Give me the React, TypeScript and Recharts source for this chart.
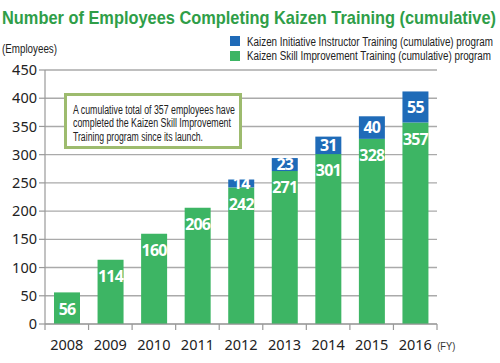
import { Bar, BarChart, CartesianGrid, LabelList, XAxis, YAxis } from 'recharts';

const YEARS = ['2008', '2009', '2010', '2011', '2012', '2013', '2014', '2015', '2016'];
const SKILL = [56, 114, 160, 206, 242, 271, 301, 328, 357];
const INSTRUCTOR = [null, null, null, null, 14, 23, 31, 40, 55];
const Y_TICKS = [0, 50, 100, 150, 200, 250, 300, 350, 400, 450];

const TITLE = 'Number of Employees Completing Kaizen Training (cumulative)';
const UNIT = '(Employees)';
const LEGEND = [
  'Kaizen Initiative Instructor Training (cumulative) program',
  'Kaizen Skill Improvement Training (cumulative) program',
];
const NOTE = [
  'A cumulative total of 357 employees have',
  'completed the Kaizen Skill Improvement',
  'Training program since its launch.',
];

const GREEN = '#3db564';
const BLUE = '#1f6bb8';
const SANS = '"Liberation Sans", Arial, sans-serif';
const LABEL_FONT = '"Noto Sans", "Open Sans", sans-serif';

const W = 500;
const H = 363;
const MARGIN = { top: 70, right: 63, left: 0, bottom: 0 };
const Y_W = 45;
const BAND = (W - MARGIN.left - MARGIN.right - Y_W) / YEARS.length;

const data = YEARS.map((year, i) => ({
  year,
  skill: SKILL[i],
  instructor: INSTRUCTOR[i],
}));

function XTick(props: any) {
  const { x, y, payload, index } = props;
  const last = index === YEARS.length - 1;
  return (
    <g>
      <line x1={x - BAND / 2} x2={x - BAND / 2} y1={y - 8} y2={y - 2} stroke="#999" strokeWidth={1.2} />
      {last && <line x1={x + BAND / 2} x2={x + BAND / 2} y1={y - 8} y2={y - 2} stroke="#999" strokeWidth={1.2} />}
      <text x={x} y={y + 18} textAnchor="middle" fontSize={14.5} fill="#222" fontFamily={LABEL_FONT}>
        {payload.value}
      </text>
      {last && (
        <text x={x + 22} y={y + 18} fontSize={11} fill="#333" fontFamily={SANS} textLength={18} lengthAdjust="spacingAndGlyphs">
          (FY)
        </text>
      )}
    </g>
  );
}

export default function App() {
  return (
    <div style={{ position: 'absolute', left: 0, top: 0, width: W, height: H, background: '#fff' }}>
      <BarChart width={W} height={H} data={data} margin={MARGIN} barSize={26}>
        <CartesianGrid horizontal vertical={false} stroke="#aaa" strokeWidth={1.4} />
        <XAxis
          dataKey="year"
          height={H - 324}
          axisLine={{ stroke: '#999', strokeWidth: 1.2 }}
          tickLine={false}
          tick={<XTick />}
          interval={0}
        />
        <YAxis
          width={Y_W}
          domain={[0, 450]}
          ticks={Y_TICKS}
          interval={0}
          axisLine={{ stroke: '#999', strokeWidth: 1.2 }}
          tickLine={{ stroke: '#999', strokeWidth: 1.2 }}
          tickSize={6}
          tick={{ fontSize: 14.5, fill: '#222', fontFamily: LABEL_FONT }}
        />
        <Bar dataKey="skill" stackId="a" fill={GREEN} isAnimationActive={false}>
          <LabelList
            dataKey="skill"
            position="insideTop"
            offset={11}
            fill="#fff"
            fontSize={16}
            fontWeight={700}
            fontFamily={LABEL_FONT}
            letterSpacing={-0.8}
          />
        </Bar>
        <Bar dataKey="instructor" stackId="a" fill={BLUE} isAnimationActive={false}>
          <LabelList
            dataKey="instructor"
            position="center"
            fill="#fff"
            fontSize={16}
            fontWeight={700}
            fontFamily={LABEL_FONT}
            letterSpacing={-0.8}
          />
        </Bar>
      </BarChart>
      <svg width={W} height={H} style={{ position: 'absolute', left: 0, top: 0, pointerEvents: 'none' }}>
        <text x={2} y={24} fontFamily={SANS} fontWeight={700} fontSize={19} fill="#2f9e48" textLength={494} lengthAdjust="spacingAndGlyphs">
          {TITLE}
        </text>
        <text x={2} y={53} fontFamily={SANS} fontSize={12} fill="#222" textLength={55} lengthAdjust="spacingAndGlyphs">
          {UNIT}
        </text>
        <rect x={230} y={36} width={10} height={10} fill={BLUE} />
        <rect x={230} y={51} width={10} height={10} fill={GREEN} />
        <text x={247} y={45.5} fontFamily={SANS} fontSize={12} fill="#222" textLength={246} lengthAdjust="spacingAndGlyphs">
          {LEGEND[0]}
        </text>
        <text x={247} y={60} fontFamily={SANS} fontSize={12} fill="#222" textLength={244} lengthAdjust="spacingAndGlyphs">
          {LEGEND[1]}
        </text>
        <rect x={65.5} y={94.5} width={175} height={53} fill="#fff" stroke="#9dbb6e" strokeWidth={3} />
        {NOTE.map((line, i) => (
          <text
            key={line}
            x={73}
            y={113.5 + i * 13.5}
            fontFamily={SANS}
            fontSize={12}
            fill="#222"
            textLength={[162, 158, 130][i]}
            lengthAdjust="spacingAndGlyphs"
          >
            {line}
          </text>
        ))}
      </svg>
    </div>
  );
}
